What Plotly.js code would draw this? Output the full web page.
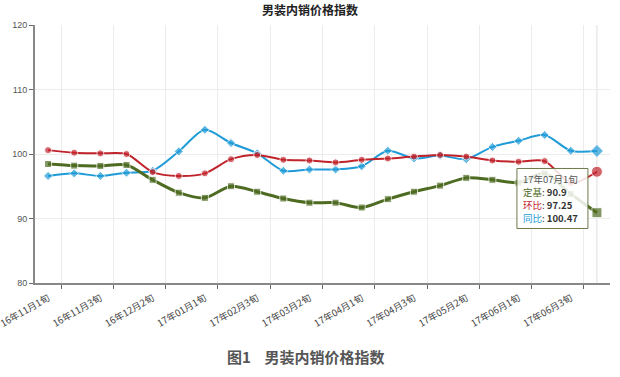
<!DOCTYPE html>
<html>
<head>
<meta charset="utf-8">
<script src="https://cdn.plot.ly/plotly-3.0.1.min.js"></script>
<style>html,body{margin:0;padding:0;background:#fff;}#chart{width:620px;height:377px;}</style>
</head>
<body>
<div id="chart"></div>
<script>
const categories = ["16年11月1旬","16年11月2旬","16年11月3旬","16年12月1旬","16年12月2旬","16年12月3旬",
  "17年01月1旬","17年01月2旬","17年02月3旬","17年03月1旬","17年03月2旬","17年03月3旬",
  "17年04月1旬","17年04月2旬","17年04月3旬","17年05月1旬","17年05月2旬","17年05月3旬",
  "17年06月1旬","17年06月2旬","17年06月3旬","17年07月1旬"];
const dingji = [98.45,98.2,98.15,98.3,96.0,94.0,93.2,95.0,94.15,93.1,92.45,92.45,91.7,93.0,94.15,95.1,96.3,96.0,95.55,97.0,93.8,90.9];
const huanbi = [100.6,100.2,100.1,100.0,97.2,96.6,97.0,99.2,99.85,99.1,99.0,98.7,99.1,99.3,99.6,99.85,99.6,99.0,98.8,98.9,95.5,97.25];
const tongbi = [96.6,97.0,96.6,97.1,97.4,100.4,103.75,101.7,100.1,97.4,97.6,97.6,98.1,100.5,99.3,99.75,99.2,101.1,102.05,102.95,100.5,100.47];
const tickPositions = [0.5,2.5,4.5,6.5,8.5,10.5,12.5,14.5,16.5,18.5,20.5];
const tickLabels = ["16年11月1旬","16年11月3旬","16年12月2旬","17年01月1旬","17年02月3旬","17年03月2旬",
  "17年04月1旬","17年04月3旬","17年05月2旬","17年06月1旬","17年06月3旬"];
const yTicks = [80,90,100,110,120];

const GREEN = '#4e6b22', RED = '#c1232b', BLUE = '#1f9bd7';
const last = categories.length - 1;

function sizes(normal, big){ return categories.map((c,i)=> i===last ? big : normal); }

const traces = [
  {x: categories, y: tongbi, name: '同比', mode: 'lines+markers', line: {color: BLUE, width: 2, shape: 'spline', smoothing: 0.8},
   marker: {symbol: 'diamond', size: sizes(7,10), color: BLUE}},
  {x: categories, y: huanbi, name: '环比', mode: 'lines+markers', line: {color: RED, width: 2, shape: 'spline', smoothing: 0.8},
   marker: {symbol: 'circle', size: sizes(7,11), color: RED}},
  {x: categories, y: dingji, name: '定基', mode: 'lines+markers', line: {color: GREEN, width: 3, shape: 'spline', smoothing: 0.8},
   marker: {symbol: 'square', size: sizes(7,10), color: GREEN}}
];

const tipTop = 97.6;
const tipFont = {family: '"Noto Sans CJK SC", sans-serif', size: 9.5, color: '#333'};
const tipLines = [
  '<span style="color:#555">' + categories[last] + '</span>',
  '<span style="color:' + GREEN + '">定基</span>: <b>' + dingji[last] + '</b>',
  '<span style="color:' + RED + '">环比</span>: <b>' + huanbi[last] + '</b>',
  '<span style="color:' + BLUE + '">同比</span>: <b>' + tongbi[last] + '</b>'
];
const tipAnn = tipLines.map((t, i) => ({
  xref: 'x', yref: 'y', x: categories[last], y: tipTop, xanchor: 'left', yanchor: 'middle',
  xshift: -75, yshift: -10 - i * 12.8, text: t, showarrow: false, align: 'left', font: tipFont, borderpad: 0
}));

const layout = {
  width: 620, height: 377,
  margin: {l: 35, r: 10, t: 25, b: 94},
  paper_bgcolor: '#fff', plot_bgcolor: '#fff',
  showlegend: false,
  font: {family: '"Liberation Sans", Arial, sans-serif', color: '#555', size: 9},
  title: {text: '<b>男装内销价格指数</b>', x: 0.5, xanchor: 'center', y: 0.983, yanchor: 'top',
          font: {family: '"Noto Sans CJK SC", sans-serif', size: 12, color: '#222'}},
  xaxis: {type: 'category', range: [-0.5, 21.5], tickmode: 'array', tickvals: tickPositions, ticktext: tickLabels,
          ticklabelshift: -13, tickangle: -30, ticks: 'outside', ticklen: 4, tickcolor: '#666',
          showgrid: true, gridcolor: '#ececec', gridwidth: 1, showline: true, linecolor: '#888', linewidth: 2,
          zeroline: false, fixedrange: true,
          tickfont: {family: '"Noto Sans CJK SC", sans-serif', size: 9.5, color: '#444'}},
  yaxis: {range: [80, 120], tickmode: 'array', tickvals: yTicks, ticks: 'outside', ticklen: 4, tickcolor: '#666',
          showgrid: true, gridcolor: '#ececec', showline: true, linecolor: '#888', linewidth: 2, zeroline: false,
          tickfont: {family: '"Liberation Sans", Arial, sans-serif', size: 9, color: '#555'}},
  shapes: [
    {type: 'line', xref: 'x', yref: 'paper', x0: categories[last], x1: categories[last], y0: 0, y1: 1,
     line: {color: '#ddd', width: 1}, layer: 'below'},
    {type: 'rect', xref: 'x', yref: 'y', xsizemode: 'pixel', ysizemode: 'pixel',
     xanchor: categories[last], yanchor: tipTop, x0: -80, x1: -9, y0: 1, y1: -59,
     fillcolor: 'rgba(255,255,255,0.85)', line: {color: '#6b7a4a', width: 1}, layer: 'above'}
  ],
  annotations: tipAnn.concat([
    {xref: 'paper', yref: 'paper', x: 0.47, y: -0.235, xanchor: 'center', yanchor: 'top', showarrow: false,
     text: '<b>图1    男装内销价格指数</b>', font: {family: '"Noto Sans CJK SC", sans-serif', size: 15, color: '#555'}}
  ])
};

Plotly.newPlot('chart', traces, layout, {displayModeBar: false, staticPlot: true});
</script>
</body>
</html>
